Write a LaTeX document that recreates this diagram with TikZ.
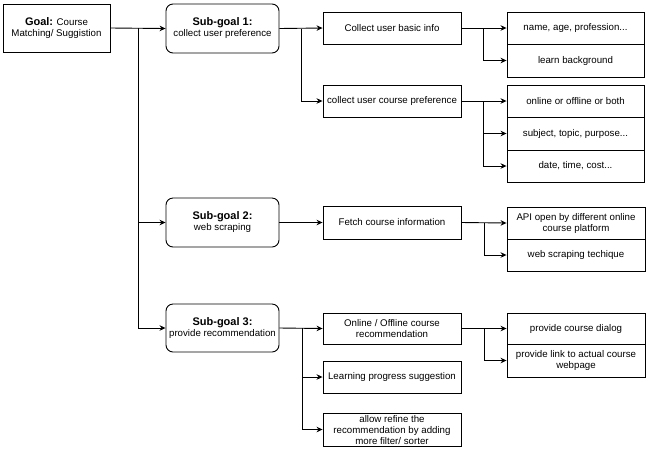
\documentclass[tikz,border=0pt]{standalone}
\usepackage{fontspec}
\setmainfont{Liberation Sans}
\usetikzlibrary{arrows.meta}
\begin{document}
\begin{tikzpicture}[x=1pt,y=-1pt,
  base/.style={draw=black,line width=0.9pt,align=center,inner sep=1pt,
    font=\fontsize{9.7}{11}\selectfont},
  box/.style={base,minimum width=#1},
  gbox/.style={base,rounded corners=7pt,minimum width=113pt,minimum height=49pt},
  conn/.style={line width=0.9pt,draw=black},
  arr/.style={conn,-{Stealth[length=6pt,width=5.5pt]}}
]
\useasboundingbox (0,0) rectangle (650,451);
% goal and sub-goals
\node[base,minimum width=107pt,minimum height=48pt] (goal) at (56.5,28)
  {{\fontsize{11}{12}\selectfont\bfseries Goal:} Course\\Matching/ Suggistion};
\node[gbox] (sg1) at (222.5,28.5) {{\fontsize{11}{12}\selectfont\bfseries Sub-goal 1:}\\collect user preference};
\node[gbox] (sg2) at (222.5,222.5) {{\fontsize{11}{12}\selectfont\bfseries Sub-goal 2:}\\web scraping};
\node[gbox,minimum height=48pt] (sg3) at (222.5,328) {{\fontsize{11}{12}\selectfont\bfseries Sub-goal 3:}\\provide recommendation};
% second level
\node[box=138pt,minimum height=32pt] (basic) at (392,28) {Collect user basic info};
\node[box=138pt,minimum height=32pt] (cpref) at (392,101) {collect user course preference};
\node[box=138pt,minimum height=33pt] (fetch) at (392,222.5) {Fetch course information};
\node[box=138pt,minimum height=31pt] (onoff) at (392,328.5) {Online / Offline course\\recommendation};
\node[box=138pt,minimum height=32pt] (learn) at (392,377) {Learning progress suggestion};
\node[box=138pt,minimum height=33pt,inner sep=0pt,text depth=0pt] (refine) at (392,429.5) {allow refine the\\recommendation by adding\\more filter/ sorter};
% third level
\node[box=137pt,minimum height=32pt] (name) at (575.5,28) {name, age, profession...};
\node[box=137pt,minimum height=33pt] (lback) at (575.5,60.5) {learn background};
\node[box=137pt,minimum height=32pt] (online) at (575.5,101) {online or offline or both};
\node[box=137pt,minimum height=33pt] (subject) at (575.5,133.5) {subject, topic, purpose...};
\node[box=137pt,minimum height=32pt] (date) at (575.5,166) {date, time, cost...};
\node[box=138pt,minimum height=32pt] (api) at (576,223) {API open by different online\\course platform};
\node[box=138pt,minimum height=32pt] (wst) at (576,255) {web scraping techique};
\node[box=138pt,minimum height=31pt] (dialog) at (576,328.5) {provide course dialog};
\node[box=138pt,minimum height=33pt] (link) at (576,360.5) {provide link to actual course\\webpage};
% junctions
\coordinate (j0) at (138,28);
\coordinate (j1) at (301,28.5);
\coordinate (j2) at (483,28);
\coordinate (j3) at (483,101);
\coordinate (j4) at (484,222.5);
\coordinate (j5) at (302,328);
\coordinate (j6) at (484,328.5);
% level 1 connectors
\draw[arr] (goal.east) -- (sg1.west);
\draw[arr] (j0) |- (sg3.west);
\draw[arr] (j0 |- sg2.west) -- (sg2.west);
% sub-goal 1
\draw[arr] (sg1.east) -- (basic.west);
\draw[arr] (j1) |- (cpref.west);
\draw[arr] (basic.east) -- (name.west);
\draw[arr] (j2) |- (lback.west);
\draw[arr] (cpref.east) -- (online.west);
\draw[arr] (j3) |- (subject.west);
\draw[arr] (j3) |- (date.west);
% sub-goal 2
\draw[arr] (sg2.east) -- (fetch.west);
\draw[arr] (fetch.east) -- (api.west);
\draw[arr] (j4) |- (wst.west);
% sub-goal 3
\draw[arr] (sg3.east) -- (onoff.west);
\draw[arr] (j5) |- (learn.west);
\draw[arr] (j5) |- (refine.west);
\draw[arr] (onoff.east) -- (dialog.west);
\draw[arr] (j6) |- (link.west);
\end{tikzpicture}
\end{document}
